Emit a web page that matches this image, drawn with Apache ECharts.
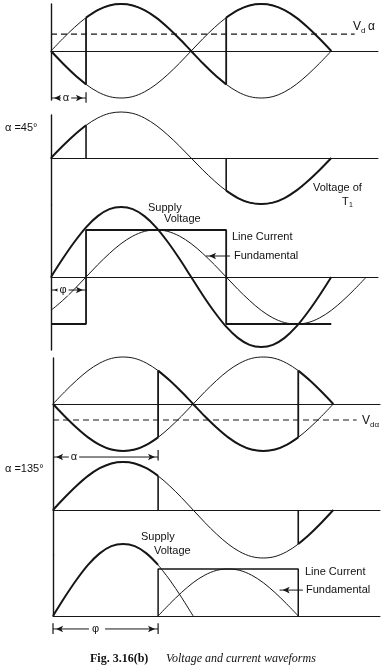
<!DOCTYPE html>
<html><head><meta charset="utf-8">
<script src="https://cdn.jsdelivr.net/npm/echarts@6/dist/echarts.min.js"></script>
<style>html,body{margin:0;padding:0;background:#fff}#c{width:389px;height:670px}</style>
</head><body><div id="c"></div>
<script>
// ---- data (angles in degrees, values in per-unit) ----
const angles = [0,15,30,45,60,75,90,105,120,135,150,165,180,195,210,225,240,255,270,285,300,315,330,345,360,375,390,405];
const supplyVoltage = [0,0.26,0.5,0.71,0.87,0.97,1,0.97,0.87,0.71,0.5,0.26,0,-0.26,-0.5,-0.71,-0.87,-0.97,-1,-0.97,-0.87,-0.71,-0.5,-0.26,0,0.26,0.5,0.71];
const fundamental45 = [-0.71,-0.5,-0.26,0,0.26,0.5,0.71,0.87,0.97,1,0.97,0.87,0.71,0.5,0.26,0,-0.26,-0.5,-0.71,-0.87,-0.97,-1,-0.97,-0.87,-0.71,-0.5,-0.26,0];
const fundamental135Angles = [135,150,165,180,195,210,225,240,255,270,285,300,315];
const fundamental135 = [0,0.26,0.5,0.71,0.87,0.97,1,0.97,0.87,0.71,0.5,0.26,0];
const currentAngles45 = [0,45,45,225,225,360];
const currentLevels45 = [-1,-1,1,1,-1,-1];
const currentAngles135 = [135,135,315,315];
const currentLevels135 = [0,1,1,0];
const alphaA = 45, alphaB = 135;
const vdAlphaA = 0.36, vdAlphaB = -0.34;
const angleEnd = 360;

// ---- layout ----
const panels = [
  {left:51, top:4,   bottom:100, zero:51,  amp:47},
  {left:51, top:115, bottom:205, zero:158, amp:46},
  {left:51, top:205, bottom:350, zero:277, amp:70, amp2:47},
  {left:53, top:358, bottom:458, zero:404, amp:47},
  {left:53, top:458, bottom:555, zero:510, amp:48},
  {left:53, top:555, bottom:616, zero:616, amp:72, amp2:47}
];
const INK = '#161616';
const THICK = 2.0, THIN = 1.0;
const grids = [], xAxes = [], yAxes = [], yIndex = [];
panels.forEach((p, i) => {
  grids.push({left:p.left, top:p.top, width:327, height:p.bottom - p.top});
  xAxes.push({type:'value', gridIndex:i, min:0, max:420, axisLine:{show:true, onZero:true, lineStyle:{color:INK, width:1}},
    axisTick:{show:false}, axisLabel:{show:false}, splitLine:{show:false}});
  const idx = [yAxes.length];
  yAxes.push({type:'value', gridIndex:i, min:-(p.bottom - p.zero)/p.amp, max:(p.zero - p.top)/p.amp,
    axisLine:{show:true, onZero:false, lineStyle:{color:INK, width:1.4}}, axisTick:{show:false}, axisLabel:{show:false}, splitLine:{show:false}});
  if (p.amp2) {
    idx.push(yAxes.length);
    yAxes.push({type:'value', gridIndex:i, show:false, min:-(p.bottom - p.zero)/p.amp2, max:(p.zero - p.top)/p.amp2,
      axisLine:{show:false}, axisTick:{show:false}, axisLabel:{show:false}, splitLine:{show:false}});
  }
  yIndex.push(idx);
});

function pairs(xs, ys, from, to, sign) {
  sign = sign === undefined ? 1 : sign;
  const out = [];
  xs.forEach((x, i) => { if (x >= from && x <= to) out.push([x, sign * ys[i]]); });
  return out;
}
const v = a => supplyVoltage[angles.indexOf(a)];

const series = [];
function S(g, yi, data, w, extra) {
  series.push(Object.assign({type:'line', xAxisIndex:g, yAxisIndex:yIndex[g][yi], data:data, symbol:'none', showSymbol:false,
    smooth:0.33, clip:false, silent:true, animation:false, lineStyle:{color:INK, width:w}, z:3}, extra || {}));
}
const straight = {smooth:false};
function arrowLine(g, yi, x1, x2, y, tipL, tipR) {
  const pts = [];
  const dir = x2 > x1 ? 1 : -1;
  pts.push({value:[x1, y], symbol:'none'});
  if (tipL) pts.push({value:[x1 + dir*4, y], symbol:'arrow', symbolSize:[5,7], symbolRotate: dir > 0 ? 90 : -90});
  if (tipR) pts.push({value:[x2 - dir*4, y], symbol:'arrow', symbolSize:[5,7], symbolRotate: dir > 0 ? -90 : 90});
  pts.push({value:[x2, y], symbol:'none'});
  S(g, yi, pts, 1, {smooth:false, symbol:'arrow', showSymbol:true, showAllSymbol:true, itemStyle:{color:INK}});
}

function bridgePanel(g, alpha, vd, dimY, tickY) {
  S(g, 0, pairs(angles, supplyVoltage, 0, angleEnd), THIN);
  S(g, 0, pairs(angles, supplyVoltage, 0, angleEnd, -1), THIN);
  S(g, 0, pairs(angles, supplyVoltage, 0, alpha, -1), THICK);
  S(g, 0, pairs(angles, supplyVoltage, alpha, 180 + alpha), THICK);
  S(g, 0, pairs(angles, supplyVoltage, 180 + alpha, angleEnd, -1), THICK);
  S(g, 0, [[alpha, -v(alpha)], [alpha, v(alpha)]], 1.8, straight);
  S(g, 0, [[180 + alpha, v(180 + alpha)], [180 + alpha, -v(180 + alpha)]], 1.8, straight);
  S(g, 0, [[0, vd], [390, vd]], 1.1, {smooth:false, lineStyle:{color:INK, width:1.1, type:[6,4]}});
  arrowLine(g, 0, 0, alpha, dimY, true, true);
  S(g, 0, [[alpha, tickY[0]], [alpha, tickY[1]]], 1.2, straight);
}
function thyristorPanel(g, alpha) {
  S(g, 0, pairs(angles, supplyVoltage, 0, angleEnd), THIN);
  S(g, 0, pairs(angles, supplyVoltage, 0, alpha), THICK);
  S(g, 0, pairs(angles, supplyVoltage, 180 + alpha, angleEnd), THICK);
  S(g, 0, [[alpha, v(alpha)], [alpha, 0]], 1.6, straight);
  S(g, 0, [[180 + alpha, 0], [180 + alpha, v(180 + alpha)]], 1.6, straight);
}

bridgePanel(0, alphaA, vdAlphaA, -1.0, [-0.88, -1.1]);
thyristorPanel(1, alphaA);
S(2, 0, pairs(angles, supplyVoltage, 0, angleEnd), THICK);
S(2, 1, currentAngles45.map((a, i) => [a, currentLevels45[i]]), 1.8, straight);
S(2, 1, pairs(angles, fundamental45, 0, 405), THIN);
arrowLine(2, 0, 0, 45, -0.186, true, true);
arrowLine(2, 0, 230, 199, 0.3, false, true);

bridgePanel(3, alphaB, vdAlphaB, -1.128, [-0.98, -1.2]);
thyristorPanel(4, alphaB);
S(5, 0, pairs(angles, supplyVoltage, 0, alphaB), THICK);
S(5, 0, pairs(angles, supplyVoltage, alphaB, 180), THIN);
S(5, 1, currentAngles135.map((a, i) => [a, currentLevels135[i]]), 1.5, straight);
S(5, 1, fundamental135Angles.map((a, i) => [a, fundamental135[i]]), THIN);
arrowLine(5, 0, 0, alphaB, -0.18, true, true);
S(5, 0, [[0, -0.1], [0, -0.25]], 1.2, straight);
S(5, 0, [[alphaB, -0.1], [alphaB, -0.25]], 1.2, straight);
arrowLine(5, 0, 321, 291, 0.36, false, true);

// ---- text ----
const SANS = '"Liberation Sans", Arial, sans-serif';
function T(x, y, text, size, extra) {
  return Object.assign({type:'text', x:x, y:y, z:100, silent:true,
    style:Object.assign({text:text, font:(size||11) + 'px ' + SANS, fill:'#111', align:'left', verticalAlign:'middle'}, (extra||{}).style || {})},
    extra && extra.el || {});
}
const mask = {style:{backgroundColor:'#fff', padding:[0,2,0,2], align:'center'}};
const graphics = [
  T(353, 27, 'V', 12), T(361, 31, 'd', 8), T(368, 27, 'α', 12),
  T(5, 128, 'α =45°', 11),
  T(313, 188, 'Voltage of', 11), T(342, 202, 'T', 11), T(349, 205, '1', 7),
  T(148, 208, 'Supply', 11), T(164, 219, 'Voltage', 11),
  T(232, 237, 'Line Current', 11),
  T(234, 256, 'Fundamental', 11),
  T(66, 98, 'α', 11, mask),
  T(63, 290, 'φ', 11, mask),
  T(362, 421, 'V', 12), T(370, 425, 'dα', 8),
  T(74, 457, 'α', 11, mask),
  T(5, 469, 'α =135°', 11),
  T(141, 537, 'Supply', 11), T(154, 551, 'Voltage', 11),
  T(305, 572, 'Line Current', 11),
  T(306, 590, 'Fundamental', 11),
  T(97, 629, 'φ', 11, {style:{backgroundColor:'#fff', padding:[0,6,0,3], align:'center'}}),
  {type:'text', x:90, y:659, z:100, style:{text:'Fig. 3.16(b)', font:'bold 12px "Liberation Serif", serif', fill:'#111', verticalAlign:'middle'}},
  {type:'text', x:166, y:659, z:100, style:{text:'Voltage and current waveforms', font:'italic 12px "Liberation Serif", serif', fill:'#111', verticalAlign:'middle'}}
];

const chart = echarts.init(document.getElementById('c'), null, {renderer:'canvas'});
chart.setOption({
  animation:false, backgroundColor:'#fff',
  grid:grids, xAxis:xAxes, yAxis:yAxes, series:series, graphic:graphics
});
</script></body></html>
